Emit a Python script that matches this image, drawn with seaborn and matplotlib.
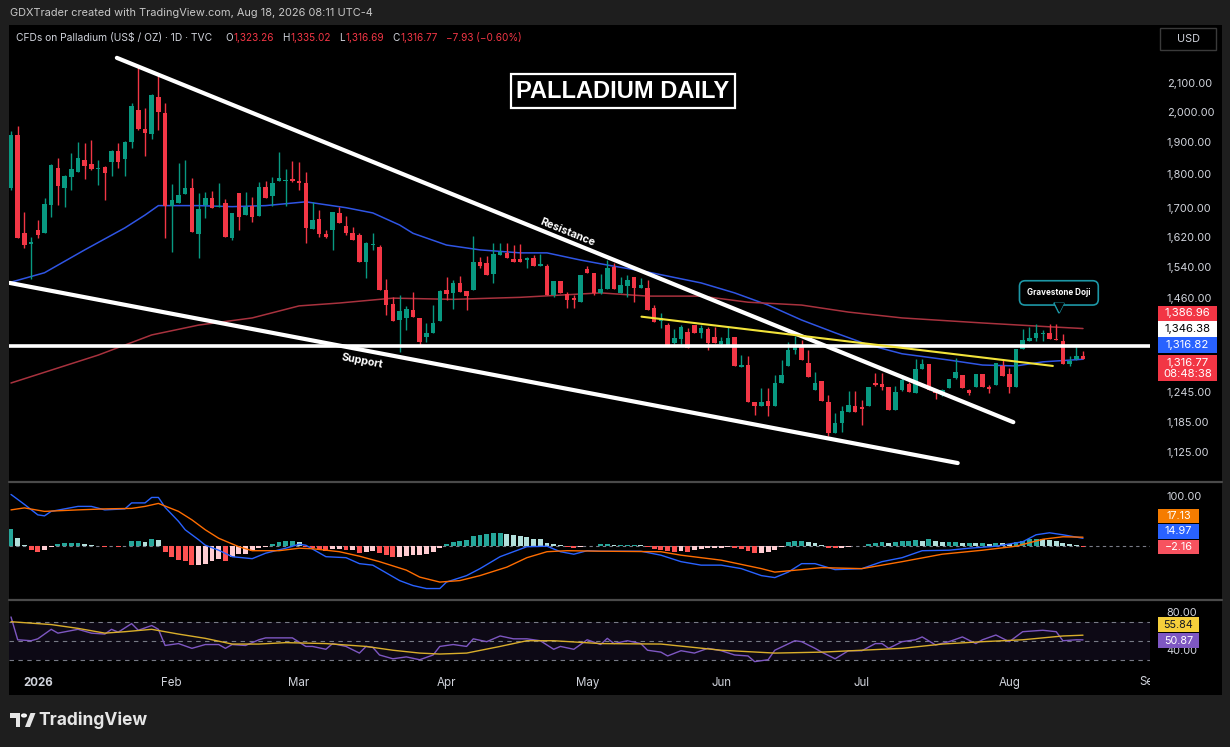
import numpy as np
import pandas as pd
import matplotlib
matplotlib.use("Agg")
import matplotlib.pyplot as plt
import seaborn as sns
from matplotlib.patches import Rectangle, Polygon, Circle
from matplotlib.lines import Line2D
from matplotlib.ticker import NullLocator
from matplotlib.transforms import Bbox, TransformedBbox, blended_transform_factory

W, H = 1230, 747


def fx(x):
    return x / W


def fy(y):
    return 1 - y / H


## Data (daily TVC palladium candles)
holidays = ["2025-12-25", "2026-01-01", "2026-01-19", "2026-02-16", "2026-04-03",
            "2026-05-25", "2026-06-19", "2026-07-03"]
dates = pd.bdate_range("2025-12-26", "2026-08-18", freq="C", holidays=holidays)

open_ = [1759, 1923, 1629, 1600, 1637, 1629, 1710, 1819, 1759, 1792,
         1807, 1844, 1831, 1816, 1822, 1838, 1872, 1847, 1901, 2006,
         1943, 1927, 2051, 1996, 1707, 1715, 1741, 1759, 1626, 1710,
         1730, 1704, 1715, 1616, 1744, 1680, 1707, 1678, 1762, 1735,
         1780, 1780, 1786, 1780, 1774, 1642, 1670, 1626, 1637, 1686,
         1650, 1629, 1624, 1552, 1597, 1592, 1480, 1446, 1407, 1412,
         1431, 1412, 1367, 1376, 1405, 1480, 1472, 1497, 1477, 1480,
         1552, 1549, 1521, 1570, 1575, 1560, 1560, 1557, 1563, 1541,
         1541, 1467, 1502, 1470, 1460, 1450, 1533, 1523, 1472, 1482,
         1539, 1472, 1490, 1513, 1485, 1485, 1436, 1405, 1395, 1354,
         1363, 1379, 1395, 1376, 1386, 1367, 1351, 1349, 1367, 1300,
         1304, 1226, 1217, 1228, 1217, 1265, 1302, 1337, 1346, 1308,
         1250, 1269, 1226, 1163, 1183, 1205, 1217, 1215, 1217, 1265,
         1263, 1257, 1209, 1250, 1263, 1244, 1295, 1306, 1250, 1240,
         1254, 1276, 1282, 1250, 1257, 1285, 1257, 1261, 1302, 1285,
         1257, 1340, 1358, 1365, 1374, 1376, 1362, 1358, 1306, 1317,
         1323.26]
high = [1935, 1953, 1690, 1619, 1667, 1730, 1830, 1850, 1798, 1865,
        1901, 1898, 1908, 1844, 1825, 1875, 1898, 1905, 2030, 2165,
        2013, 2060, 2136, 2030, 1771, 1834, 1844, 1789, 1744, 1747,
        1750, 1774, 1727, 1686, 1744, 1747, 1733, 1777, 1780, 1792,
        1869, 1816, 1841, 1838, 1807, 1718, 1693, 1639, 1690, 1704,
        1678, 1647, 1629, 1605, 1629, 1597, 1508, 1462, 1467, 1441,
        1474, 1412, 1401, 1443, 1480, 1513, 1505, 1515, 1477, 1621,
        1565, 1568, 1602, 1602, 1602, 1597, 1600, 1565, 1570, 1573,
        1546, 1502, 1502, 1475, 1467, 1518, 1541, 1523, 1521, 1557,
        1549, 1513, 1518, 1513, 1510, 1505, 1443, 1424, 1400, 1386,
        1395, 1388, 1395, 1395, 1390, 1390, 1367, 1390, 1367, 1326,
        1324, 1226, 1254, 1254, 1282, 1315, 1356, 1369, 1360, 1337,
        1289, 1269, 1240, 1203, 1217, 1248, 1248, 1230, 1257, 1287,
        1287, 1257, 1259, 1282, 1267, 1317, 1317, 1306, 1252, 1252,
        1274, 1320, 1282, 1252, 1285, 1285, 1261, 1308, 1315, 1298,
        1340, 1386, 1390, 1398, 1383, 1398, 1398, 1374, 1324, 1346,
        1335.02]
low = [1753, 1616, 1590, 1508, 1616, 1629, 1675, 1710, 1704, 1753,
       1807, 1786, 1814, 1768, 1722, 1795, 1819, 1795, 1882, 1940,
       1856, 1910, 1940, 1616, 1578, 1715, 1741, 1632, 1563, 1673,
       1701, 1704, 1619, 1611, 1639, 1680, 1661, 1678, 1730, 1707,
       1780, 1707, 1777, 1753, 1602, 1642, 1619, 1616, 1584, 1658,
       1624, 1611, 1552, 1510, 1584, 1480, 1419, 1405, 1333, 1383,
       1414, 1349, 1356, 1376, 1405, 1455, 1434, 1475, 1431, 1480,
       1536, 1518, 1497, 1570, 1563, 1552, 1552, 1536, 1541, 1541,
       1467, 1462, 1472, 1436, 1436, 1450, 1523, 1467, 1470, 1482,
       1482, 1472, 1462, 1450, 1485, 1431, 1402, 1388, 1349, 1351,
       1351, 1342, 1376, 1365, 1337, 1354, 1344, 1349, 1302, 1300,
       1226, 1199, 1217, 1197, 1217, 1265, 1302, 1328, 1315, 1278,
       1250, 1228, 1156, 1163, 1165, 1205, 1205, 1179, 1217, 1259,
       1250, 1209, 1209, 1248, 1246, 1244, 1295, 1250, 1232, 1238,
       1254, 1274, 1254, 1240, 1257, 1257, 1244, 1261, 1280, 1244,
       1257, 1340, 1358, 1358, 1358, 1362, 1360, 1306, 1302, 1315,
       1316.69]
close = [1923, 1616, 1597, 1605, 1624, 1712, 1828, 1765, 1795, 1816,
         1850, 1825, 1816, 1819, 1804, 1872, 1838, 1901, 2020, 1943,
         1930, 2058, 2000, 1707, 1724, 1738, 1759, 1632, 1698, 1730,
         1701, 1707, 1619, 1686, 1675, 1704, 1675, 1762, 1730, 1774,
         1789, 1783, 1780, 1774, 1645, 1667, 1626, 1619, 1690, 1658,
         1629, 1611, 1552, 1602, 1600, 1480, 1443, 1405, 1429, 1434,
         1414, 1356, 1376, 1401, 1477, 1470, 1497, 1475, 1465, 1552,
         1541, 1518, 1573, 1578, 1563, 1552, 1552, 1562, 1541, 1546,
         1467, 1502, 1472, 1455, 1455, 1518, 1523, 1472, 1482, 1536,
         1482, 1492, 1505, 1485, 1492, 1431, 1402, 1412, 1349, 1365,
         1390, 1342, 1376, 1388, 1354, 1354, 1358, 1365, 1302, 1304,
         1226, 1217, 1226, 1217, 1265, 1282, 1337, 1346, 1315, 1278,
         1265, 1228, 1163, 1183, 1207, 1219, 1205, 1211, 1257, 1261,
         1257, 1209, 1246, 1272, 1246, 1295, 1306, 1250, 1244, 1250,
         1274, 1289, 1254, 1244, 1285, 1257, 1252, 1308, 1280, 1257,
         1340, 1360, 1365, 1376, 1376, 1362, 1361, 1306, 1313, 1324,
         1316.77]
change = [-7.93, -0.60]

# moving averages (bar index, value)
ma50_x = [0, 5, 11, 17, 20, 22, 28, 33, 38, 44, 50, 54, 58, 60, 65, 70, 76, 80, 85, 89,
          95, 103, 108, 113, 118, 123, 128, 133, 140, 145, 150, 154, 160]
ma50_y = [1500, 1524, 1584, 1644, 1680, 1707, 1707, 1704, 1707, 1718, 1701, 1686, 1652, 1629,
          1597, 1584, 1576, 1576, 1557, 1544, 1526, 1498, 1473, 1443, 1407, 1377, 1349, 1329,
          1315, 1304, 1302, 1311, 1316.82]
ma200_x = [0, 13, 21, 28, 36, 43, 49, 57, 66, 76, 88, 95, 103, 110, 118, 125, 133, 145, 155, 160]
ma200_y = [1265, 1326, 1372, 1395, 1412, 1441, 1448, 1460, 1457, 1462, 1473, 1465, 1465, 1450,
           1443, 1426, 1412, 1400, 1391, 1386.96]

# drawings
resist_x, resist_y = [15.8, 149.6], [2191, 1184]
support_x, support_y = [-0.2, 141.3], [1498, 1105]
wedge_x, wedge_y = [94.1, 155.5], [1415, 1302]
hline_level = 1346.38

# MACD
macd_x = [0, 2, 4, 5, 6, 10, 12, 14, 17, 18, 20, 21, 22, 23, 25, 26, 28, 29, 31, 33, 36, 38,
          41, 43, 44, 47, 50, 52, 54, 58, 60, 62, 64, 65, 68, 70, 73, 75, 77, 80, 82, 84, 86,
          88, 94, 97, 100, 103, 106, 109, 112, 114, 116, 118, 120, 123, 127, 130, 133, 136,
          140, 143, 147, 151, 153, 155, 157, 160]
macd_y = [103, 83, 62, 60, 69, 79, 79, 72, 74, 86, 86, 97, 97, 77, 49, 32, 12, 1, -9, -22, -26,
          -15, -5, 3, 1, -22, -24, -36, -39, -70, -80, -86, -86, -73, -60, -46, -22, -12, -2,
          -1, -12, -17, -10, -11, -11, -19, -32, -39, -39, -46, -60, -64, -53, -36, -36, -48,
          -46, -32, -24, -10, -9, -5, -1, 8, 22, 26, 22, 14.97]
signal_x = [0, 2, 5, 10, 14, 18, 20, 22, 25, 27, 29, 31, 34, 36, 40, 43, 45, 49, 52, 55, 59,
            61, 64, 67, 70, 74, 77, 80, 83, 88, 97, 100, 106, 112, 114, 118, 121, 127, 133,
            139, 145, 150, 154, 157, 160]
signal_y = [72, 76, 69, 72, 74, 75, 79, 85, 69, 52, 32, 15, -2, -10, -10, -5, -6, -12, -21,
            -32, -49, -63, -73, -70, -60, -43, -24, -12, -10, -11, -12, -19, -29, -46, -53,
            -48, -44, -46, -32, -17, -9, -1, 13, 18, 17.13]
macd_hist = [33, 16, 1, -9, -12, -9, -2, 3, 5, 6,
             6, 3, 1, 0, -2, 0, -2, 0, 10, 10,
             7, 13, 12, -12, -22, -29, -30, -39, -39, -36,
             -30, -26, -31, -22, -17, -16, -10, -5, -2, 3,
             7, 9, 9, 7, -2, -5, -9, -10, -7, -7,
             -9, -9, -14, -12, -10, -14, -19, -22, -22, -21,
             -19, -19, -16, -12, -4, 3, 8, 10, 12, 20,
             22, 23, 25, 25, 24, 22, 20, 17, 14, 13,
             6, 3, 1, -3, -5, -2, -1, 0, 3, 3,
             2, 2, 2, 2, 1, -3, -6, -8, -10, -12,
             -10, -12, -9, -7, -5, -5, -4, -2, -5, -7,
             -10, -14, -14, -12, -9, -3, 8, 10, 10, 8,
             5, 1, -4, -5, -4, -2, -1, 0, 3, 6,
             8, 6, 8, 9, 10, 12, 10, 13, 10, 8,
             8, 8, 6, 6, 5, 5, 3, 6, 5, 3,
             8, 10, 13, 14, 13, 12, 10, 5, 3, 1, -2.16]

# RSI
rsi_x = [0, 1, 3, 4, 6, 7, 10, 12, 14, 15, 16, 18, 19, 21, 22, 23, 25, 27, 29, 31, 32, 33,
         35, 37, 38, 41, 42, 44, 45, 47, 48, 50, 52, 53, 54, 55, 57, 59, 61, 63, 64, 66, 68,
         69, 71, 73, 75, 77, 79, 81, 82, 84, 86, 88, 89, 90, 92, 94, 95, 97, 98, 100, 102,
         104, 106, 108, 110, 111, 113, 114, 117, 118, 120, 121, 123, 125, 127, 129, 130, 131,
         133, 135, 136, 138, 140, 142, 144, 145, 147, 149, 151, 153, 154, 156, 157, 159, 160]
rsi_y = [75, 51, 50, 52, 62, 58, 62, 58, 57, 62, 59, 68, 61, 66, 62, 45, 47, 42, 46, 46, 42,
         46, 45, 51, 53, 53, 53, 44, 44, 41, 47, 44, 37, 44, 43, 35, 31, 33, 30, 35, 44, 46,
         44, 52, 49, 55, 52, 52, 50, 41, 44, 41, 51, 46, 52.5, 47, 50, 47, 40, 38, 34, 39.5,
         37, 42, 39.5, 35, 34, 28, 30, 40, 50, 49, 42, 38, 31, 39.5, 39.5, 47, 47, 42, 49, 51,
         54, 45.5, 49, 54, 47, 51, 56, 49, 59.5, 60.5, 61, 59.5, 50, 51, 50.87]
rsi_ma_x = [0, 6, 10, 14, 17, 21, 25, 29, 33, 37, 41, 47, 53, 57, 61, 64, 68, 73, 77, 81, 88,
            97, 106, 114, 121, 127, 133, 139, 145, 151, 157, 160]
rsi_ma_y = [70, 67, 63, 58, 59.5, 62, 57, 52.5, 46.5, 46.5, 48, 47, 44, 40, 37, 36, 37, 44,
            50, 50, 47, 46.5, 40, 37, 38, 40, 42, 46.5, 49, 51, 55, 55.84]

price_ticks = [1125, 1185, 1245, 1460, 1540, 1620, 1700, 1800, 1900, 2000, 2100]
month_names = ["2026", "Feb", "Mar", "Apr", "May", "Jun", "Jul", "Aug"]

## Style
FRAME = "#1e1e1e"
PANEL = "#000000"
TXT = "#d1d4dc"
GREEN = "#089981"
RED = "#f23645"

sns.set_theme(style="dark", rc={"axes.facecolor": PANEL, "figure.facecolor": FRAME,
                                "axes.grid": False, "xtick.color": TXT, "ytick.color": TXT})
plt.rcParams["font.family"] = ["Inter", "DejaVu Sans"]

fig = plt.figure(figsize=(W / 100, H / 100), dpi=100)
fig.add_artist(Rectangle((fx(9), fy(695)), fx(1222) - fx(9), fy(25) - fy(695),
                         transform=fig.transFigure, facecolor=PANEL, edgecolor="none", zorder=-5))


def panel(top, bottom):
    a = fig.add_axes([fx(9), fy(bottom), fx(1150) - fx(9), fy(top) - fy(bottom)])
    a.set_facecolor(PANEL)
    for s in a.spines.values():
        s.set_visible(False)
    a.yaxis.tick_right()
    a.tick_params(axis="y", length=0, pad=12, labelsize=7.9, labelcolor=TXT)
    a.tick_params(axis="x", length=0)
    return a


ax = panel(25, 481)
ax_m = panel(482, 599)
ax_r = panel(601, 670)

idx = np.arange(len(close))
o, hi, lo, c = map(np.asarray, (open_, high, low, close))
col = np.where(c >= o, GREEN, RED)

## Price pane
ax.set_yscale("log")
ax.vlines(idx, lo, hi, colors=col, linewidth=1.0, zorder=3)
ax.bar(idx, np.maximum(np.abs(c - o), 2.5), bottom=np.minimum(o, c), width=0.66,
       color=col, linewidth=0, zorder=3)
sns.lineplot(x=ma50_x, y=ma50_y, ax=ax, color="#2f55e4", linewidth=1.1, zorder=2)
sns.lineplot(x=ma200_x, y=ma200_y, ax=ax, color="#a8323e", linewidth=1.1, zorder=2)
ax.axhline(hline_level, color="white", linewidth=2.6, zorder=4)
ax.plot(resist_x, resist_y, color="white", linewidth=3, solid_capstyle="round", zorder=4)
ax.plot(support_x, support_y, color="white", linewidth=3, solid_capstyle="round", zorder=4)
ax.plot(wedge_x, wedge_y, color="#f2e33a", linewidth=1.5, zorder=4)
ax.text(83.1, 1633, "Resistance", rotation=-22.3, ha="center", va="center", color="white",
        fontsize=7.8, fontweight="bold", zorder=5)
ax.text(52.4, 1313, "Support", rotation=-10.8, ha="center", va="center", color="white",
        fontsize=7.8, fontweight="bold", zorder=5)
ax.text(0.538, 0.855, "PALLADIUM DAILY", transform=ax.transAxes, ha="center", va="center",
        color="white", fontsize=17, fontweight="bold", family=["Liberation Sans", "DejaVu Sans"],
        bbox=dict(boxstyle="square,pad=0.22", fc="black", ec="white", lw=1.6), zorder=6)
ax.text(156.4, 1473, "Gravestone Doji", ha="center", va="center", color="white", fontsize=5.8,
        fontweight="bold", bbox=dict(boxstyle="round,pad=0.95,rounding_size=0.7", fc="black",
                                     ec="#1d97a6", lw=1.2), zorder=7)
ax.plot([156.4], [1435], marker="v", ms=6.5, mfc="black", mec="#1d97a6", mew=1.2, zorder=8)
ax.plot([156.4], [1438.5], marker="v", ms=6.5, mfc="black", mec="none", zorder=9)
ax.set_xlim(-0.3, 170)
ax.set_ylim(1072, 2316)
ax.yaxis.set_minor_locator(NullLocator())
ax.set_yticks(price_ticks, labels=[f"{t:,.2f}" for t in price_ticks])
ax.set_xticks([])
ax.set_xlabel("")
ax.set_ylabel("")

## MACD pane
hist = np.asarray(macd_hist)
prev = np.r_[hist[0], hist[:-1]]
hcol = np.where(hist >= 0, np.where(hist >= prev, "#26a69a", "#b2dfdb"),
                np.where(hist < prev, "#ff5252", "#ffcdd2"))
ax_m.axhline(0, color="#787b86", linewidth=0.8, linestyle=(0, (3, 3)), zorder=1)
ax_m.bar(idx, hist, width=0.72, color=hcol, linewidth=0, zorder=2)
sns.lineplot(x=macd_x, y=macd_y, ax=ax_m, color="#2962ff", linewidth=1.0, zorder=3)
sns.lineplot(x=signal_x, y=signal_y, ax=ax_m, color="#ff6d00", linewidth=1.0, zorder=3)
ax_m.set_xlim(-0.3, 170)
ax_m.set_ylim(-107, 128)
ax_m.set_yticks([100], labels=["100.00"])
ax_m.set_xticks([])
ax_m.set_xlabel("")
ax_m.set_ylabel("")

## RSI pane
ax_r.axhspan(30, 70, color="#7e57c2", alpha=0.11, linewidth=0, zorder=0)
for lvl in (70, 50, 30):
    ax_r.axhline(lvl, color="#787b86", linewidth=0.8, linestyle=(0, (4, 4)), zorder=1)
sns.lineplot(x=rsi_x, y=rsi_y, ax=ax_r, color="#7e57c2", linewidth=1.0, zorder=3)
sns.lineplot(x=rsi_ma_x, y=rsi_ma_y, ax=ax_r, color="#d9ae2b", linewidth=1.0, zorder=3)
ax_r.set_xlim(-0.3, 170)
ax_r.set_ylim(19.2, 91.8)
ax_r.set_yticks([80, 40], labels=["80.00", "40.00"])
ax_r.set_xlabel("")
ax_r.set_ylabel("")

month_idx = [i for i in range(1, len(dates)) if dates[i].month != dates[i - 1].month]
ax_r.set_xticks(month_idx, labels=month_names)
ax_r.tick_params(axis="x", pad=5, labelsize=8.3, labelcolor=TXT)
ax_r.get_xticklabels()[0].set_fontweight("bold")
sep_idx = len(dates) + len(pd.bdate_range("2026-08-19", "2026-09-01")) - 1
sep = fig.text(sep_idx, fy(682), "Sep", transform=blended_transform_factory(ax_r.transData, fig.transFigure),
               ha="center", va="center", fontsize=8.3, color=TXT)
sep.set_clip_box(TransformedBbox(Bbox([[0, 0], [fx(1150), 1]]), fig.transFigure))

## pane separators
for yy in (481.5, 600):
    fig.add_artist(Line2D([fx(9), fx(1222)], [fy(yy), fy(yy)], transform=fig.transFigure,
                          color="#4a4a4a", linewidth=1.6))


## right-axis value badges
def badge(x0, x1, y0, y1, lines, bg, fg, size=8.2):
    fig.add_artist(Rectangle((fx(x0), fy(y1)), fx(x1) - fx(x0), fy(y0) - fy(y1),
                             transform=fig.transFigure, facecolor=bg, edgecolor="none", zorder=5))
    for text, yy in lines:
        fig.text(fx((x0 + x1) / 2), fy(yy), text, ha="center", va="center", color=fg,
                 fontsize=size, zorder=6)


badge(1158, 1217, 306, 321, [(f"{ma200_y[-1]:,.2f}", 313.5)], "#f23645", "white")
badge(1158, 1217, 321, 337, [(f"{hline_level:,.2f}", 329)], "white", "black")
badge(1158, 1217, 337, 353, [(f"{ma50_y[-1]:,.2f}", 345)], "#2962ff", "white")
badge(1158, 1217, 355, 381, [(f"{close[-1]:,.2f}", 363), ("08:48:38", 374)], "#f23645", "white")
badge(1158, 1199, 509, 523, [(f"{signal_y[-1]:.2f}", 516)], "#f57c00", "white", 7.8)
badge(1158, 1199, 524, 539, [(f"{macd_y[-1]:.2f}", 531.5)], "#2962ff", "white", 7.8)
badge(1158, 1199, 540, 554, [(f"{macd_hist[-1]:.2f}".replace("-", "\u2212"), 547)], "#f7525f", "white", 7.8)
badge(1158, 1199, 617, 632, [(f"{rsi_ma_y[-1]:.2f}", 624.5)], "#f5cf3b", "#131722", 7.8)
badge(1158, 1199, 633, 648, [(f"{rsi_y[-1]:.2f}", 640.5)], "#7e57c2", "white", 7.8)

## header texts
fig.text(fx(10), fy(13), "GDXTrader created with TradingView.com, Aug 18, 2026 08:11 UTC-4",
         ha="left", va="center", fontsize=7.9, color="#c8c8c8")
fig.text(fx(16), fy(38), "CFDs on Palladium (US$ / OZ) \u00b7 1D \u00b7 TVC", ha="left", va="center",
         fontsize=7.4, color=TXT)
renderer = fig.canvas.get_renderer()
ohlc_parts = [("O", TXT), (f"{open_[-1]:,.2f}", RED), ("H", TXT), (f"{high[-1]:,.2f}", RED),
              ("L", TXT), (f"{low[-1]:,.2f}", RED), ("C", TXT), (f"{close[-1]:,.2f}", RED),
              (f"{change[0]:.2f} ({change[1]:.2f}%)".replace("-", "\u2212"), RED)]
xpos = 225
for k, (t, tc) in enumerate(ohlc_parts):
    tt = fig.text(fx(xpos), fy(38), t, ha="left", va="center", fontsize=7.2, color=tc)
    xpos += tt.get_window_extent(renderer).width + (1 if k % 2 == 0 else 8)

fig.add_artist(Rectangle((fx(1160), fy(50)), fx(1216) - fx(1160), fy(28) - fy(50),
                         transform=fig.transFigure, facecolor="black", edgecolor="#3a3a3a", lw=1))
fig.text(fx(1188), fy(39), "USD", ha="center", va="center", fontsize=7.8, color=TXT)

## TradingView logo
logo = "#e6e6e6"
fig.add_artist(Polygon([[fx(10), fy(713)], [fx(20), fy(713)], [fx(20), fy(727)], [fx(15.5), fy(727)],
                        [fx(15.5), fy(717.5)], [fx(10), fy(717.5)]], closed=True,
                       transform=fig.transFigure, facecolor=logo, edgecolor="none"))
fig.add_artist(Circle((fx(24), fy(715.5)), 2.3 / W, transform=fig.transFigure, facecolor=logo))
fig.add_artist(Polygon([[fx(25), fy(727)], [fx(30.5), fy(713)], [fx(35.5), fy(713)], [fx(30), fy(727)]],
                       closed=True, transform=fig.transFigure, facecolor=logo, edgecolor="none"))
fig.text(fx(38), fy(720), "TradingView", ha="left", va="center", fontsize=12.5,
         fontweight="bold", color=logo)

fig.savefig("out.png", dpi=100, facecolor=FRAME)
